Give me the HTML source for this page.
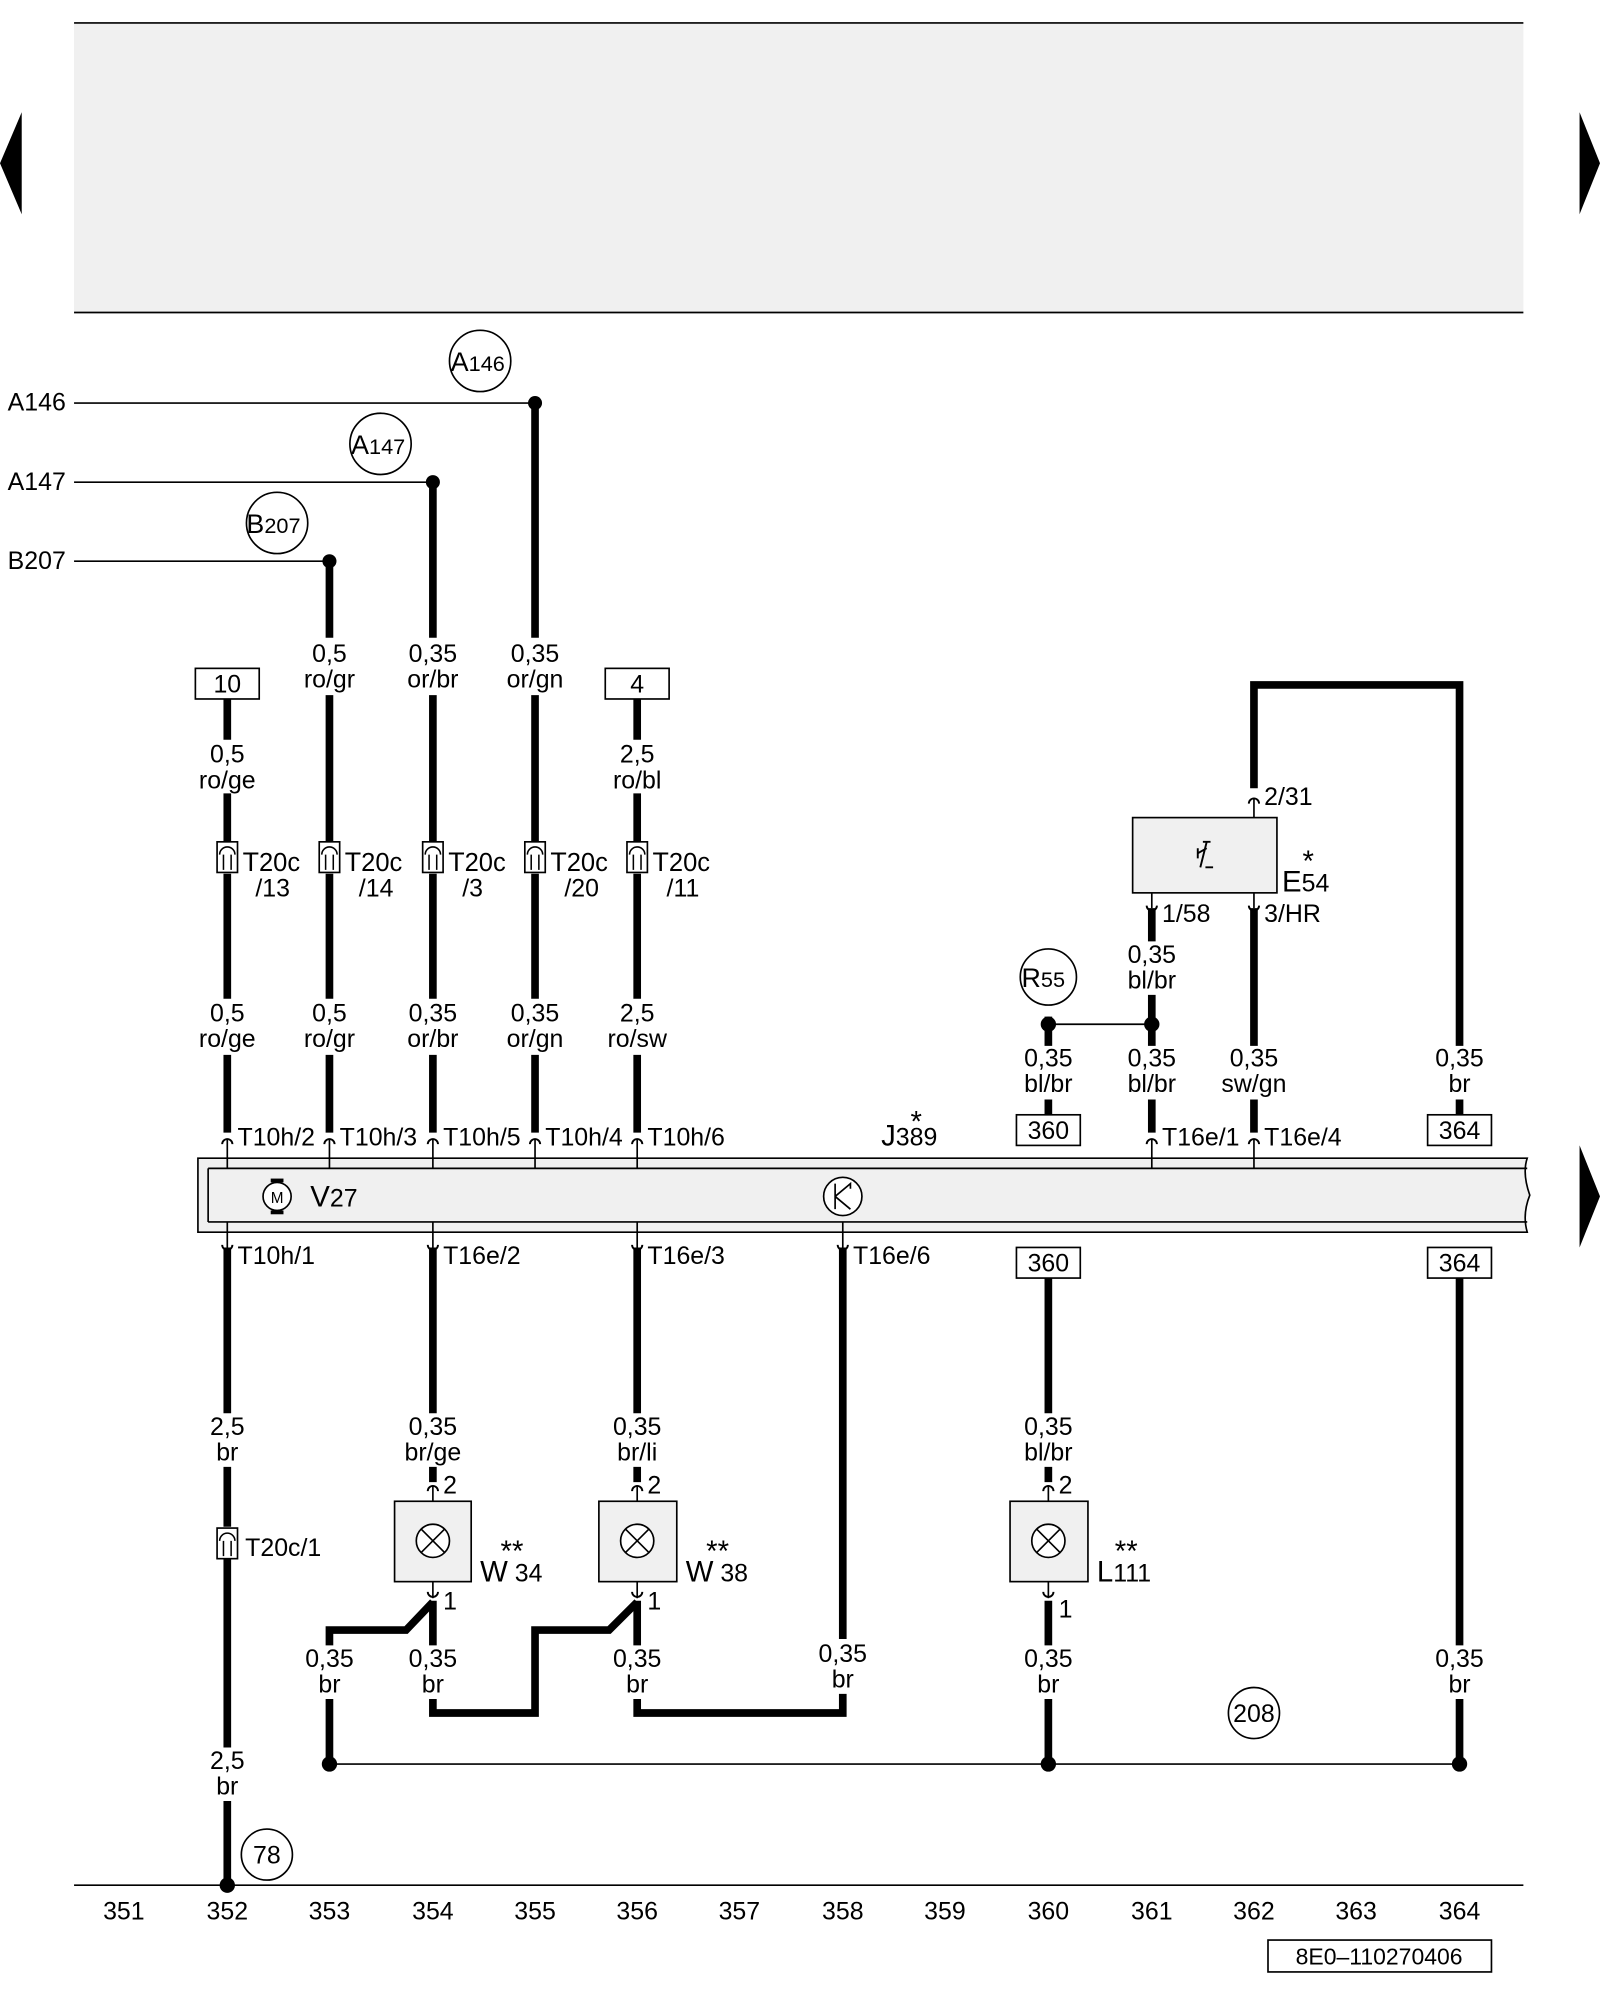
<!DOCTYPE html>
<html><head><meta charset="utf-8"><style>
html,body{margin:0;padding:0;background:#fff}
svg{display:block}
text{font-family:"Liberation Sans",sans-serif;fill:#000}
</style></head><body>
<svg width="1600" height="2000" viewBox="0 0 1253 1568" preserveAspectRatio="none" xmlns="http://www.w3.org/2000/svg">
<defs>
<g id="plugU"><path d="M-4,4 A4,4 0 0 1 4,4" fill="none" stroke="#000" stroke-width="1.5"/></g>
<g id="plugD"><path d="M-4,-4 A4,4 0 0 0 4,-4" fill="none" stroke="#000" stroke-width="1.5"/></g>
<g id="t20"><rect x="-8" y="-12" width="16" height="24" fill="#fff" stroke="#000" stroke-width="1.3"/><path d="M-6,-2 A6,6 0 0 1 6,-2 M-3,-2 V10 M3,-2 V10" fill="none" stroke="#000" stroke-width="1.2"/></g>
</defs>
<rect x="58" y="18" width="1135" height="227" fill="#f0f0f0"/>
<line x1="58" y1="18" x2="1193" y2="18" stroke="#000" stroke-width="1.3"/>
<line x1="58" y1="245" x2="1193" y2="245" stroke="#000" stroke-width="1.3"/>
<polygon points="17,88 17,168 0,128" fill="#000"/>
<polygon points="1237,88 1237,168 1253,128" fill="#000"/>
<polygon points="1237,898 1237,978 1253,938" fill="#000"/>

<g font-size="19.5">
<text x="6" y="322">A146</text><text x="6" y="384">A147</text><text x="6" y="446">B207</text>
</g>
<g stroke="#000" stroke-width="1.3">
<line x1="58" y1="316" x2="419" y2="316"/><line x1="58" y1="378" x2="339" y2="378"/><line x1="58" y1="440" x2="258" y2="440"/>
<line x1="821" y1="803" x2="902" y2="803"/>
<line x1="258" y1="1383" x2="1143" y2="1383"/>
<line x1="58" y1="1478" x2="1193" y2="1478"/>
</g>
<g fill="#000"><circle cx="419" cy="316" r="5.5"/><circle cx="339" cy="378" r="5.5"/><circle cx="258" cy="440" r="5.5"/>
<circle cx="821" cy="803" r="6"/><circle cx="902" cy="803" r="6"/>
<circle cx="258" cy="1383" r="6"/><circle cx="821" cy="1383" r="6"/><circle cx="1143" cy="1383" r="6"/><circle cx="178" cy="1478" r="6"/></g>
<g fill="#fff" stroke="#000" stroke-width="1.3">
<circle cx="376" cy="283" r="24"/><circle cx="298" cy="348" r="24"/><circle cx="217" cy="410" r="24"/>
<circle cx="821" cy="766" r="22"/><circle cx="982" cy="1343" r="20"/><circle cx="209" cy="1454" r="20"/>
</g>
<g font-size="21"><text x="353" y="291">A<tspan font-size="17">146</tspan></text>
<text x="275" y="356">A<tspan font-size="17">147</tspan></text>
<text x="193" y="418">B<tspan font-size="17">207</tspan></text>
<text x="800" y="774">R<tspan font-size="17">55</tspan></text></g>
<g font-size="19.5" text-anchor="middle"><text x="982" y="1350">208</text><text x="209" y="1461">78</text></g>

<g stroke="#000" stroke-width="6" fill="none">
<path d="M178,548V580 M178,622V660 M178,685V783 M178,827V888"/>
<path d="M258,440V500 M258,545V660 M258,685V783 M258,827V888"/>
<path d="M339,378V500 M339,545V660 M339,685V783 M339,827V888"/>
<path d="M419,316V500 M419,545V660 M419,685V783 M419,827V888"/>
<path d="M499,548V580 M499,622V660 M499,685V783 M499,827V888"/>
<path d="M178,978V1108 M178,1150V1197 M178,1222V1370 M178,1412V1478"/>
<path d="M339,978V1108 M339,1150V1162 M339,1255V1290"/>
<path d="M499,978V1108 M499,1150V1162 M499,1255V1290"/>
<path d="M660,978V1285"/>
<path d="M339,1332V1343H419V1278H477L499,1256"/>
<path d="M339,1256L318,1278H258V1290 M258,1332V1383"/>
<path d="M499,1332V1343H660V1328"/>
<path d="M821,797V820 M821,862V874 M821,1002V1108 M821,1150V1162 M821,1255V1290 M821,1332V1383"/>
<path d="M902,712V738 M902,780V820 M902,862V888"/>
<path d="M982,618V537H1143V820 M982,712V820 M982,862V888"/>
<path d="M1143,862V874 M1143,1002V1290 M1143,1332V1383"/>
</g>
<g fill="#fff" stroke="#000" stroke-width="1.3">
<rect x="153" y="524" width="50" height="24"/><rect x="474" y="524" width="50" height="24"/>
<rect x="796" y="874" width="50" height="24"/><rect x="1118" y="874" width="50" height="24"/>
<rect x="796" y="978" width="50" height="24"/><rect x="1118" y="978" width="50" height="24"/>
<rect x="993" y="1521" width="175" height="25"/>
</g>
<g font-size="19.5" text-anchor="middle">
<text x="178" y="543">10</text><text x="499" y="543">4</text>
<text x="821" y="893">360</text><text x="1143" y="893">364</text>
<text x="821" y="997">360</text><text x="1143" y="997">364</text>
<text x="1080" y="1540" font-size="18">8E0–110270406</text>
</g>
<use href="#t20" x="178" y="672"/><use href="#t20" x="258" y="672"/><use href="#t20" x="339" y="672"/><use href="#t20" x="419" y="672"/><use href="#t20" x="499" y="672"/><use href="#t20" x="178" y="1210"/>
<g font-size="21">
<text x="190" y="683">T<tspan font-size="20">20c</tspan></text><text x="270" y="683">T<tspan font-size="20">20c</tspan></text><text x="351" y="683">T<tspan font-size="20">20c</tspan></text><text x="431" y="683">T<tspan font-size="20">20c</tspan></text><text x="511" y="683">T<tspan font-size="20">20c</tspan></text>
</g>
<g font-size="19.5">
<text x="200" y="703">/13</text><text x="281" y="703">/14</text><text x="362" y="703">/3</text><text x="442" y="703">/20</text><text x="522" y="703">/11</text>
<text x="192" y="1220">T20c/1</text>
</g>
<g font-size="19.5" text-anchor="middle">
<text x="178" y="598">0,5</text><text x="178" y="618">ro/ge</text>
<text x="499" y="598">2,5</text><text x="499" y="618">ro/bl</text>
<text x="258" y="519">0,5</text><text x="258" y="539">ro/gr</text>
<text x="339" y="519">0,35</text><text x="339" y="539">or/br</text>
<text x="419" y="519">0,35</text><text x="419" y="539">or/gn</text>
<text x="178" y="801">0,5</text><text x="178" y="821">ro/ge</text>
<text x="258" y="801">0,5</text><text x="258" y="821">ro/gr</text>
<text x="339" y="801">0,35</text><text x="339" y="821">or/br</text>
<text x="419" y="801">0,35</text><text x="419" y="821">or/gn</text>
<text x="499" y="801">2,5</text><text x="499" y="821">ro/sw</text>
<text x="902" y="755">0,35</text><text x="902" y="775">bl/br</text>
<text x="821" y="836">0,35</text><text x="821" y="856">bl/br</text>
<text x="902" y="836">0,35</text><text x="902" y="856">bl/br</text>
<text x="982" y="836">0,35</text><text x="982" y="856">sw/gn</text>
<text x="1143" y="836">0,35</text><text x="1143" y="856">br</text>
<text x="178" y="1125">2,5</text><text x="178" y="1145">br</text>
<text x="339" y="1125">0,35</text><text x="339" y="1145">br/ge</text>
<text x="499" y="1125">0,35</text><text x="499" y="1145">br/li</text>
<text x="821" y="1125">0,35</text><text x="821" y="1145">bl/br</text>
<text x="258" y="1307">0,35</text><text x="258" y="1327">br</text>
<text x="339" y="1307">0,35</text><text x="339" y="1327">br</text>
<text x="499" y="1307">0,35</text><text x="499" y="1327">br</text>
<text x="660" y="1303">0,35</text><text x="660" y="1323">br</text>
<text x="821" y="1307">0,35</text><text x="821" y="1327">br</text>
<text x="1143" y="1307">0,35</text><text x="1143" y="1327">br</text>
<text x="178" y="1387">2,5</text><text x="178" y="1407">br</text>
</g>
<path d="M155,908H1196Q1192,920 1198,937Q1192,952 1196,966H155Z" fill="#f0f0f0" stroke="#000" stroke-width="1.3"/>
<path d="M163,916H1196 M163,958H1196 M163,916V958" fill="none" stroke="#000" stroke-width="1.3"/>
<g stroke="#000" stroke-width="1.3">
<line x1="178" y1="893" x2="178" y2="916"/><line x1="258" y1="893" x2="258" y2="916"/><line x1="339" y1="893" x2="339" y2="916"/><line x1="419" y1="893" x2="419" y2="916"/><line x1="499" y1="893" x2="499" y2="916"/><line x1="902" y1="893" x2="902" y2="916"/><line x1="982" y1="893" x2="982" y2="916"/>
<line x1="178" y1="958" x2="178" y2="984"/><line x1="339" y1="958" x2="339" y2="984"/><line x1="499" y1="958" x2="499" y2="984"/><line x1="660" y1="958" x2="660" y2="984"/>
<line x1="982" y1="626" x2="982" y2="641"/><line x1="902" y1="700" x2="902" y2="712"/><line x1="982" y1="700" x2="982" y2="712"/>
<line x1="339" y1="1165" x2="339" y2="1253"/><line x1="499" y1="1165" x2="499" y2="1253"/><line x1="821" y1="1165" x2="821" y2="1253"/>
</g>
<g fill="#fff" stroke="#000" stroke-width="1.3">
<rect x="309" y="1177" width="60" height="63" fill="#f0f0f0"/><rect x="469" y="1177" width="61" height="63" fill="#f0f0f0"/><rect x="791" y="1177" width="61" height="63" fill="#f0f0f0"/>
<rect x="887" y="641" width="113" height="59" fill="#f0f0f0"/>
<circle cx="339" cy="1208" r="13"/><circle cx="499" cy="1208" r="13"/><circle cx="821" cy="1208" r="13"/>
<path d="M330,1199L348,1217M348,1199L330,1217M490,1199L508,1217M508,1199L490,1217M812,1199L830,1217M830,1199L812,1217" fill="none"/>
<circle cx="217" cy="938" r="11"/><circle cx="660" cy="938" r="15"/>
</g>
<rect x="212" y="924" width="10" height="3" fill="#000"/><rect x="212" y="949" width="10" height="3" fill="#000"/>
<text x="217" y="943" font-size="12" text-anchor="middle">M</text>
<path d="M654,928V948M654,938L666,928V932M654,938L666,948" fill="none" stroke="#000" stroke-width="1.3"/>
<path d="M938,665V673M938,669L945,665M945,660L940,680M942,660H948M944,680H950" fill="none" stroke="#000" stroke-width="1.5"/>
<g>
<use href="#plugU" x="178" y="893"/><use href="#plugU" x="258" y="893"/><use href="#plugU" x="339" y="893"/><use href="#plugU" x="419" y="893"/><use href="#plugU" x="499" y="893"/><use href="#plugU" x="902" y="893"/><use href="#plugU" x="982" y="893"/>
<use href="#plugU" x="982" y="626"/><use href="#plugU" x="339" y="1165"/><use href="#plugU" x="499" y="1165"/><use href="#plugU" x="821" y="1165"/>
<use href="#plugD" x="178" y="980"/><use href="#plugD" x="339" y="980"/><use href="#plugD" x="499" y="980"/><use href="#plugD" x="660" y="980"/>
<use href="#plugD" x="902" y="714"/><use href="#plugD" x="982" y="714"/><use href="#plugD" x="339" y="1252"/><use href="#plugD" x="499" y="1252"/><use href="#plugD" x="821" y="1252"/>
</g>
<g font-size="19.5">
<text x="186" y="898">T10h/2</text><text x="266" y="898">T10h/3</text><text x="347" y="898">T10h/5</text><text x="427" y="898">T10h/4</text><text x="507" y="898">T10h/6</text>
<text x="910" y="898">T16e/1</text><text x="990" y="898">T16e/4</text>
<text x="186" y="991">T10h/1</text><text x="347" y="991">T16e/2</text><text x="507" y="991">T16e/3</text><text x="668" y="991">T16e/6</text>
<text x="990" y="631">2/31</text><text x="910" y="723">1/58</text><text x="990" y="723">3/HR</text>
<text x="347" y="1171">2</text><text x="507" y="1171">2</text><text x="829" y="1171">2</text>
<text x="347" y="1262">1</text><text x="507" y="1262">1</text><text x="829" y="1268">1</text>
</g>
<g font-size="23">
<text x="690" y="898">J<tspan font-size="19.5">389</tspan></text><text x="713" y="887">*</text>
<text x="243" y="946">V<tspan font-size="19.5">27</tspan></text>
<text x="1004" y="699">E<tspan font-size="19.5">54</tspan></text><text x="1020" y="683">*</text>
<text x="376" y="1240">W<tspan font-size="19.5"> 34</tspan></text><text x="392" y="1224">**</text>
<text x="537" y="1240">W<tspan font-size="19.5"> 38</tspan></text><text x="553" y="1224">**</text>
<text x="859" y="1240">L<tspan font-size="19.5">111</tspan></text><text x="873" y="1224">**</text>
</g>
<g font-size="19.5" text-anchor="middle">
<text x="97" y="1505">351</text><text x="178" y="1505">352</text><text x="258" y="1505">353</text><text x="339" y="1505">354</text><text x="419" y="1505">355</text><text x="499" y="1505">356</text><text x="579" y="1505">357</text><text x="660" y="1505">358</text><text x="740" y="1505">359</text><text x="821" y="1505">360</text><text x="902" y="1505">361</text><text x="982" y="1505">362</text><text x="1062" y="1505">363</text><text x="1143" y="1505">364</text>
</g>
</svg>
</body></html>
